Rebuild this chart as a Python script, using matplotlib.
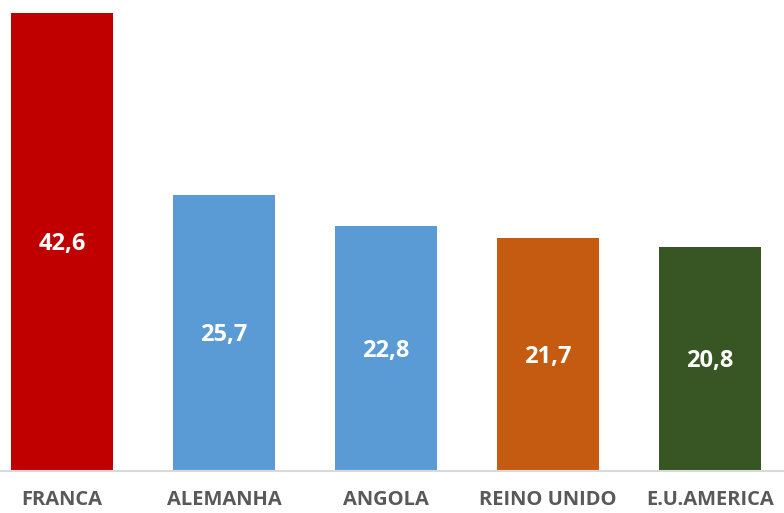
import matplotlib
matplotlib.use("Agg")
import matplotlib.pyplot as plt

categories = ["FRANCA", "ALEMANHA", "ANGOLA", "REINO UNIDO", "E.U.AMERICA"]
values = [42.6, 25.7, 22.8, 21.7, 20.8]
labels = ["42,6", "25,7", "22,8", "21,7", "20,8"]
colors = ["#C00000", "#5B9BD5", "#5B9BD5", "#C55A11", "#375623"]

plt.rcParams['font.family'] = ['Open Sans', 'DejaVu Sans']

fig = plt.figure(figsize=(7.84, 5.13), dpi=100)
ax = fig.add_axes([0, 42/513, 1, 471/513])
x = list(range(len(categories)))
bars = ax.bar(x, values, width=0.63, color=colors, zorder=2)
for b, lab in zip(bars, labels):
    ax.text(b.get_x() + b.get_width() / 2, b.get_height() / 2 - 0.2, lab,
            ha='center', va='center', color='white', fontsize=17, fontweight='bold')

ax.set_xlim(-62/162, 4 + 74/162)
ax.set_ylim(0, 471/10.75)
for s in ['top', 'right', 'left']:
    ax.spines[s].set_visible(False)
ax.spines['bottom'].set_color('#D9D9D9')
ax.spines['bottom'].set_linewidth(1.5)
ax.set_yticks([])
ax.set_xticks(x)
ax.set_xticklabels(categories, fontsize=14.5, fontweight='bold', color='#595959')
ax.tick_params(axis='x', length=0, pad=14)

fig.savefig("out.png", dpi=100)
